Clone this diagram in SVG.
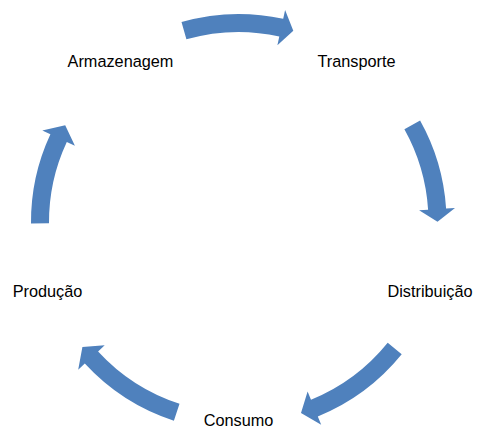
<svg xmlns="http://www.w3.org/2000/svg" width="477" height="430" viewBox="0 0 477 430">
<style>
.arrow{fill:#4F81BD;stroke:none}
.label{font-family:"Liberation Sans",Arial,sans-serif;font-size:16.3px;fill:#000;text-anchor:middle}
</style>
<rect width="477" height="430" fill="#fff"/>
<g id="connectors">
<path class="arrow" d="M181.5,22 A208,208 0 0 1 283.2,18.8 L285.1,10.1 L293.3,30.7 L277.4,45.2 L279.3,36.4 A190,190 0 0 0 186.4,39.3 Z"/>
<path class="arrow" d="M420.1,120.5 A208,208 0 0 1 446.1,208.6 L455,208 L437.5,221.7 L419.1,210.3 L428.1,209.7 A190,190 0 0 0 404.4,129.3 Z"/>
<path class="arrow" d="M401.7,354.2 A210,210 0 0 1 317.8,416.4 L321.2,424.8 L301,413.1 L307.6,391.4 L311,399.8 A192,192 0 0 0 387.7,342.8 Z"/>
<path class="arrow" d="M173.9,420.8 A209,209 0 0 1 84.8,363.6 L78.2,369.7 L82.4,347 L104.7,345.3 L98.1,351.4 A191,191 0 0 0 179.5,403.7 Z"/>
<path class="arrow" d="M31,223.5 A207.5,207.5 0 0 1 50.4,134.3 L42.3,130.5 L65.2,125.2 L74.9,145.7 L66.8,141.9 A189.5,189.5 0 0 0 49,223.3 Z"/>
</g>
<g id="node-armazenagem"><text class="label" x="120.5" y="67">Armazenagem</text></g>
<g id="node-transporte"><text class="label" x="356.5" y="67">Transporte</text></g>
<g id="node-distribuicao"><text class="label" x="430" y="297">Distribuição</text></g>
<g id="node-consumo"><text class="label" x="238.5" y="426">Consumo</text></g>
<g id="node-producao"><text class="label" x="47.5" y="297">Produção</text></g>
</svg>
